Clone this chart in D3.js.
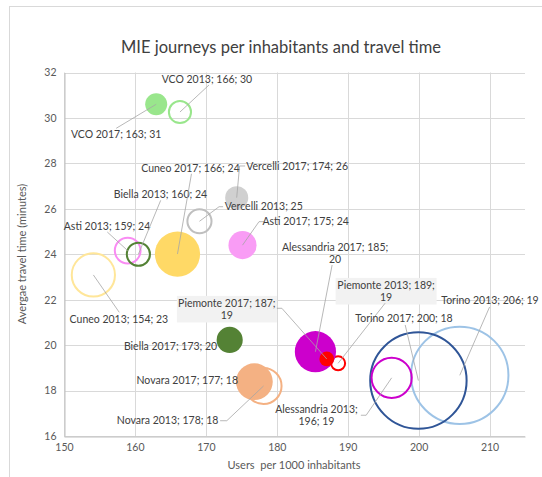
<!DOCTYPE html>
<html>
<head>
<meta charset="utf-8">
<script src="https://cdn.jsdelivr.net/npm/d3@7"></script>
<style>
  html, body { margin: 0; padding: 0; background: #fff; }
  svg { display: block; font-family: "Lato", "Noto Sans", sans-serif; }
</style>
</head>
<body>
<svg id="chart" width="542" height="477"></svg>
<script>
// Bubble chart: MIE journeys per 1000 inhabitants vs. average travel time, by province
const names = [
  "Cuneo 2013", "Asti 2013", "Biella 2013", "Vercelli 2013", "VCO 2013",
  "Novara 2013", "Alessandria 2013", "Torino 2013", "Piemonte 2013",
  "Cuneo 2017", "Asti 2017", "Biella 2017", "Vercelli 2017", "VCO 2017",
  "Novara 2017", "Alessandria 2017", "Torino 2017", "Piemonte 2017"
];
const users = [
  154.14, 158.98, 160.49, 169.1, 166.35,
  178.13, 196.2, 205.8, 188.65,
  166.0, 175.17, 173.36, 174.35, 163.0,
  176.84, 185.45, 199.97, 187.05
];
const travelTime = [
  23.09, 24.16, 24.0, 25.45, 30.26,
  18.2, 18.56, 18.67, 19.2,
  24.01, 24.4, 20.23, 26.49, 30.6,
  18.39, 19.71, 18.44, 19.39
];
const bubbleSize = [
  20.7, 7.8, 6.4, 6.9, 5.9,
  14.7, 18.0, 100, 2.6,
  20.7, 8.0, 6.9, 5.4, 4.9,
  13.7, 17.2, 98, 2.2
];
const xTicks = [150, 160, 170, 180, 190, 200, 210];
const yTicks = [16, 18, 20, 22, 24, 26, 28, 30, 32];

// Styling per point: solid fill or outline only
const colors = [
  "#ffe699", "#f98cf3", "#548235", "#bfbfbf", "#99e68c",
  "#f4b183", "#cc00cc", "#9dc3e6", "#ff0000",
  "#ffd966", "#f99cf5", "#548235", "#d0d0d0", "#99e68c",
  "#f4b183", "#cc00cc", "#2f5597", "#ff0000"
];
const filled = [
  false, false, false, false, false,
  false, false, false, false,
  true, true, true, true, true,
  true, true, false, true
];

// Label placement: offset of the label centre from the bubble centre (px),
// leader start (relative to label centre) and optional elbow point.
const labelLayout = [
  { dx: 25.5, dy: 44.4, lead: [[0.4, -7]] },                   // Cuneo 2013
  { dx: -20.7, dy: -24.6, lead: [[0.3, 6]] },                  // Asti 2013
  { dx: 22.1, dy: -59.9, lead: [[0.2, 6]] },                   // Biella 2013
  { dx: 64.3, dy: -14.6, lead: [[-40.7, 0], [-44.7, 0]], hideX: true }, // Vercelli 2013
  { dx: 27, dy: -33, lead: [[2, 6]] },                         // VCO 2013
  { dx: -95.9, dy: 34.7, lead: [[52.5, 0], [59.2, 0]] },       // Novara 2013
  { dx: -75.2, dy: 37.4, lead: [[44.4, 0], [49.7, 0]], split: 1 }, // Alessandria 2013
  { dx: 30.2, dy: -75.3, lead: [[-0.4, 7]] },                  // Torino 2013
  { dx: 48, dy: -72.1, lead: [[-1, 12]], split: 2, box: [101, 26.6] }, // Piemonte 2013
  { dx: 13, dy: -85.7, lead: [[1, 5.5]] },                     // Cuneo 2017
  { dx: 63.2, dy: -23.5, lead: [[-41.7, 0], [-46.7, 0]] },     // Asti 2017
  { dx: -59.1, dy: 6.1, lead: null },                          // Biella 2017
  { dx: 60.4, dy: -31.7, lead: [[-52, 0], [-57.5, 0]] },       // Vercelli 2017
  { dx: -40, dy: 30, lead: [[0, -6]] },                        // VCO 2017
  { dx: -67.1, dy: -1, lead: null },                           // Novara 2017
  { dx: 19.7, dy: -98.2, lead: [[-3, 11.5]], split: 2 },       // Alessandria 2017
  { dx: -14.4, dy: -62.3, lead: [[1.2, 6.7]] },                // Torino 2017
  { dx: -99.9, dy: -49.8, lead: [[50, -0.9], [55, -0.9]], split: 2, box: [100, 26.6] } // Piemonte 2017
];

const points = names.map((name, i) => ({
  name, x: users[i], y: travelTime[i], size: bubbleSize[i],
  color: colors[i], filled: filled[i], layout: labelLayout[i]
}));

const svg = d3.select("#chart");
const plot = { left: 64, top: 72.5, right: 525, bottom: 436 };

// Chart area frame
svg.append("rect")
  .attr("x", 9.5).attr("y", 6.5).attr("width", 560).attr("height", 500)
  .attr("fill", "#fff").attr("stroke", "#d9d9d9").attr("stroke-width", 1);

const x = d3.scaleLinear().domain([150, 215]).range([plot.left, plot.right]);
const y = d3.scaleLinear().domain([16, 32]).range([plot.bottom, plot.top]);
const r = d3.scaleSqrt().domain([0, d3.max(bubbleSize)]).range([0, 49.7]);

// Title
svg.append("text")
  .attr("x", 281).attr("y", 53)
  .attr("text-anchor", "middle")
  .attr("font-size", 16.5).attr("fill", "#404040")
  .text("MIE journeys per inhabitants and travel time");

// Gridlines
const grid = svg.append("g");
grid.selectAll("line.v").data(xTicks).join("line")
  .attr("x1", d => Math.round(x(d)) + 0.5).attr("x2", d => Math.round(x(d)) + 0.5)
  .attr("y1", plot.top).attr("y2", plot.bottom)
  .attr("stroke", "#d9d9d9");
grid.selectAll("line.h").data(yTicks).join("line")
  .attr("x1", plot.left).attr("x2", plot.right)
  .attr("y1", d => Math.round(y(d)) + 0.5).attr("y2", d => Math.round(y(d)) + 0.5)
  .attr("stroke", "#d9d9d9");

// Axes
const xAxis = svg.append("g")
  .attr("transform", `translate(0,${Math.round(plot.bottom) + 0.5})`)
  .call(d3.axisBottom(x).tickValues(xTicks).tickSize(0).tickPadding(7));
const yAxis = svg.append("g")
  .attr("transform", `translate(${Math.round(plot.left) + 0.5},0)`)
  .call(d3.axisLeft(y).tickValues(yTicks).tickSize(0).tickPadding(8));
[xAxis, yAxis].forEach(a => {
  a.select(".domain").attr("stroke", "#bfbfbf");
  a.selectAll("text").attr("font-family", "Lato, sans-serif")
    .attr("font-size", 10.5).attr("fill", "#595959");
});

// Axis titles
svg.append("text")
  .attr("x", 294).attr("y", 469)
  .attr("text-anchor", "middle").attr("font-size", 11).attr("fill", "#595959")
  .style("white-space", "pre")
  .text("Users  per 1000 inhabitants");
svg.append("text")
  .attr("transform", "translate(26,254) rotate(-90)")
  .attr("text-anchor", "middle").attr("font-size", 11).attr("fill", "#595959")
  .text("Avergae travel time (minutes)");

// Bubbles: outlines first, then solid ones; larger bubbles below smaller ones
const ordered = points.slice().sort((a, b) =>
  (a.filled - b.filled) || (b.size - a.size));
svg.append("g").selectAll("circle").data(ordered).join("circle")
  .attr("cx", d => x(d.x)).attr("cy", d => y(d.y))
  .attr("r", d => d.filled ? r(d.size) : r(d.size) - 1)
  .attr("fill", d => d.filled ? d.color : "none")
  .attr("stroke", d => d.filled ? "none" : d.color)
  .attr("stroke-width", 2);

// Data labels: "name; users; minutes"
const fmt = d3.format(".0f");
function labelLines(d) {
  const parts = [d.name + ";"];
  if (!d.layout.hideX) parts.push(fmt(d.x) + ";");
  parts.push(fmt(d.y));
  const s = d.layout.split;
  if (!s) return [parts.join(" ")];
  return [parts.slice(0, s).join(" "), parts.slice(s).join(" ")];
}

const labels = svg.append("g");
points.forEach(d => {
  const cx = x(d.x), cy = y(d.y);
  const lx = cx + d.layout.dx, ly = cy + d.layout.dy;
  if (d.layout.box) {
    const [bw, bh] = d.layout.box;
    labels.append("rect")
      .attr("x", lx - bw / 2).attr("y", ly - bh / 2)
      .attr("width", bw).attr("height", bh)
      .attr("fill", "#f2f2f2");
  }
  if (d.layout.lead) {
    const pts = d.layout.lead.map(([ox, oy]) => [lx + ox, ly + oy]);
    pts.push([cx, cy]);
    labels.append("path")
      .attr("d", d3.line()(pts))
      .attr("fill", "none").attr("stroke", "#a6a6a6").attr("stroke-width", 0.8);
  }
  const lines = labelLines(d);
  const lh = 11.6;
  const t = labels.append("text")
    .attr("text-anchor", "middle").attr("font-size", 10.5).attr("fill", "#404040");
  lines.forEach((line, k) => {
    t.append("tspan")
      .attr("x", lx)
      .attr("y", ly + (k - (lines.length - 1) / 2) * lh)
      .attr("dy", "0.35em")
      .text(line);
  });
});
</script>
</body>
</html>
